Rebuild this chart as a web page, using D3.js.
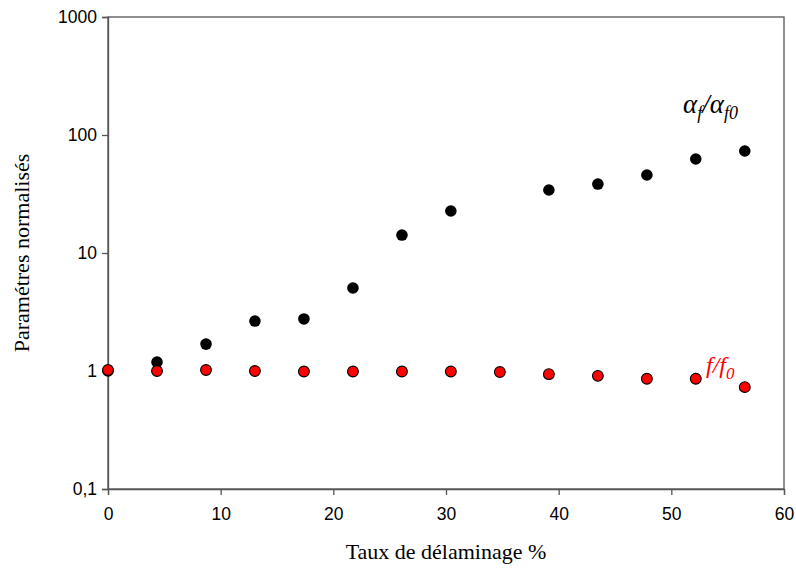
<!DOCTYPE html>
<html><head><meta charset="utf-8">
<script src="https://cdn.jsdelivr.net/npm/d3@7"></script>
<style>body{margin:0;background:#fff}
.serif{font-family:'Liberation Serif','Times New Roman',serif}
.sans{font-family:'Liberation Sans',Arial,sans-serif}
</style>
</head><body>
<svg id="c" width="796" height="575"></svg>
<script>
const xVals = [0, 4.35, 8.7, 13.04, 17.39, 21.74, 26.09, 30.43, 34.78, 39.13, 43.48, 47.83, 52.17, 56.52];
const alphaRatio = [1, 1.19, 1.69, 2.65, 2.76, 5.05, 14.2, 22.7, null, 34.2, 38.4, 45.8, 62.6, 73.2];
const fRatio = [1.02, 1.0, 1.02, 1.0, 0.99, 0.99, 0.99, 0.99, 0.98, 0.94, 0.91, 0.86, 0.86, 0.73];
const xTicks = [0, 10, 20, 30, 40, 50, 60];
const yTicks = [0.1, 1, 10, 100, 1000];
const yTickLabels = ["0,1", "1", "10", "100", "1000"];

const svg = d3.select("#c");
const L = 108, R = 784, T = 17, B = 489;
const x = d3.scaleLinear().domain([0, 60]).range([L, R]);
const y = d3.scaleLog().domain([0.1, 1000]).range([B, T]);
const axisCol = "#555";

svg.append("rect").attr("x", L).attr("y", T).attr("width", R - L).attr("height", B - T)
  .attr("fill", "none").attr("stroke", axisCol).attr("stroke-width", 1.3);

const xa = svg.append("g").attr("transform", `translate(0,${B})`)
  .call(d3.axisBottom(x).tickValues(xTicks).tickSize(6).tickPadding(13).tickFormat(d3.format("d")));
const ya = svg.append("g").attr("transform", `translate(${L},0)`)
  .call(d3.axisLeft(y).tickValues(yTicks).tickSize(6).tickPadding(5).tickFormat((d, i) => yTickLabels[i]));
[xa, ya].forEach(g => {
  g.attr("font-family", null);
  g.select(".domain").attr("stroke", axisCol).attr("stroke-width", 1.3);
  g.selectAll(".tick line").attr("stroke", axisCol).attr("stroke-width", 1.3);
  g.selectAll("text").attr("class", "sans").attr("font-size", 17.5).attr("fill", "#000");
});

svg.append("text").attr("class", "serif").attr("x", 446).attr("y", 559).attr("text-anchor", "middle")
  .attr("font-size", 22).text("Taux de délaminage %");
svg.append("text").attr("class", "serif").attr("transform", `translate(29,253) rotate(-90)`).attr("text-anchor", "middle")
  .attr("font-size", 22).text("Paramétres normalisés");

const blk = xVals.map((v, i) => ({ x: v, y: alphaRatio[i] })).filter(d => d.y != null);
svg.append("g").selectAll("circle").data(blk).join("circle")
  .attr("cx", d => x(d.x)).attr("cy", d => y(d.y)).attr("r", 5.8).attr("fill", "#000");
const red = xVals.map((v, i) => ({ x: v, y: fRatio[i] }));
svg.append("g").selectAll("circle").data(red).join("circle")
  .attr("cx", d => x(d.x)).attr("cy", d => y(d.y)).attr("r", 5.4).attr("fill", "#ff0000")
  .attr("stroke", "#000").attr("stroke-width", 1.1);

const a = svg.append("text").attr("class", "serif").attr("x", 683).attr("y", 113)
  .attr("font-style", "italic").attr("font-size", 27).attr("fill", "#000");
a.append("tspan").text("α");
a.append("tspan").attr("font-size", 18).attr("dy", 6).text("f");
a.append("tspan").attr("dy", -6).text("/α");
a.append("tspan").attr("font-size", 18).attr("dy", 6).text("f0");

const f = svg.append("text").attr("class", "serif").attr("x", 706).attr("y", 373)
  .attr("font-style", "italic").attr("font-size", 24).attr("fill", "#ff0000");
f.append("tspan").text("f/f");
f.append("tspan").attr("font-size", 17).attr("dy", 6).text("0");
</script>
</body></html>
